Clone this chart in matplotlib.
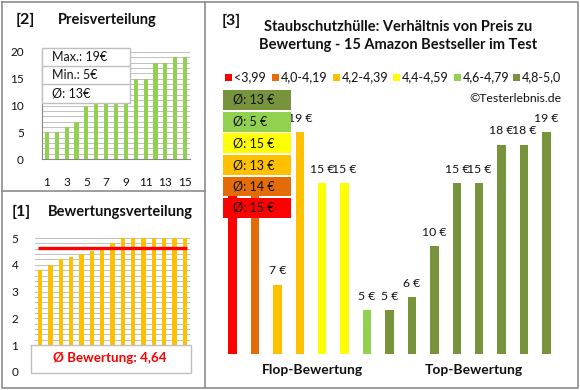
import matplotlib
matplotlib.use("Agg")
import matplotlib.pyplot as plt
from matplotlib.patches import Rectangle
from matplotlib.lines import Line2D
import numpy as np

plt.rcParams['font.family'] = ['Lato', 'DejaVu Sans']

# ---------------- data ----------------
ratings = [3.8, 4.0, 4.2, 4.3, 4.4, 4.5, 4.6, 4.8, 5.0, 5.0, 5.0, 5.0, 5.0, 5.0, 5.0]
prices = [15, 14, 7, 19, 15, 15, 5, 5, 6, 10, 15, 15, 18, 18, 19]
price_ticks = [1, 3, 5, 7, 9, 11, 13, 15]
legend_labels = ['<3,99', '4,0-4,19', '4,2-4,39', '4,4-4,59', '4,6-4,79', '4,8-5,0']
legend_colors = ['#FF0000', '#E36C09', '#FFC000', '#FFFF00', '#92D050', '#77933C']
bin_edges = [0, 3.995, 4.195, 4.395, 4.595, 4.795, 5.01]
title3 = "Staubschutzhülle: Verhältnis von Preis zu\nBewertung - 15 Amazon Bestseller im Test"
group_labels = ['Flop-Bewertung', 'Top-Bewertung']
hidden_labels = [0, 1]  # value labels covered by the average boxes in the original

W, H = 580, 390
fig = plt.figure(figsize=(W / 100, H / 100), dpi=100)
fig.patch.set_facecolor('white')

def fx(x): return x / W
def fy(y): return 1 - y / H
def rect(x0, y0, x1, y1): return [x0 / W, 1 - y1 / H, (x1 - x0) / W, (y1 - y0) / H]

TXT = '#111111'
GRID = '#C0C0C0'
BORDER = '#8C8C8C'

# ---------------- panel borders ----------------
def fline(xs, ys, color=BORDER, lw=1.2, z=20):
    fig.add_artist(Line2D([fx(x) for x in xs], [fy(y) for y in ys], color=color, lw=lw, zorder=z))

fline([2, 578, 578, 2, 2], [2, 2, 388, 388, 2])
fline([205, 205], [2, 388])
fline([2, 205], [191, 191])

# ---------------- panel [2] Preisverteilung ----------------
sorted_prices = sorted(prices)
ax2 = fig.add_axes(rect(42, 52, 190, 159))
x2 = np.arange(1, len(sorted_prices) + 1)
ax2.bar(x2, sorted_prices, width=0.42, color='#92D050', zorder=3)
ax2.set_xlim(0.5, 15.5)
ax2.set_ylim(0, 20)
ax2.set_yticks([0, 5, 10, 15, 20])
ax2.set_yticks(np.arange(0, 21, 1), minor=True)
ax2.set_xticks(price_ticks)
ax2.grid(axis='y', which='both', color=GRID, lw=0.7, zorder=0)
ax2.tick_params(axis='both', which='both', length=0, labelsize=8.5, colors=TXT)
ax2.tick_params(axis='x', pad=13)
ax2.tick_params(axis='y', pad=13)
for s in ['top', 'right']:
    ax2.spines[s].set_visible(False)
for s in ['left', 'bottom']:
    ax2.spines[s].set_color('#868686')
    ax2.spines[s].set_linewidth(0.8)

fig.text(fx(16), fy(20), '[2]', fontsize=11.5, fontweight='bold', color=TXT, va='center', ha='left')
fig.text(fx(58), fy(20), 'Preisverteilung', fontsize=10.5, fontweight='bold', color=TXT, va='center', ha='left')

# stats box
fig.add_artist(Rectangle((fx(42), fy(103)), (130 - 42) / W, (103 - 48) / H,
                         transform=fig.transFigure, facecolor='white', edgecolor='#BFBFBF', lw=1, zorder=10))
fline([42, 130], [66, 66], color='#BFBFBF', lw=1, z=11)
fline([42, 130], [84, 84], color='#BFBFBF', lw=1, z=11)
pmean = int(round(np.mean(prices)))
for yy, t in zip([57, 75, 93], [f'Max.: {max(prices)}€', f'Min.: {min(prices)}€', f'Ø: {pmean}€']):
    fig.text(fx(52), fy(yy), t, fontsize=9, color=TXT, va='center', ha='left', zorder=12)

# ---------------- panel [1] Bewertungsverteilung ----------------
ax1 = fig.add_axes(rect(35, 238, 190, 372))
x1 = np.arange(1, len(ratings) + 1)
ax1.bar(x1, ratings, width=0.45, color='#FFC000', zorder=3)
rmean = np.mean(ratings)
ax1.hlines(rmean, 0.8, 15.2, color='#FF0000', lw=2.4, zorder=4)
ax1.set_xlim(0.5, 15.5)
ax1.set_ylim(0, 5)
ax1.set_yticks([0, 1, 2, 3, 4, 5])
ax1.set_yticks(np.arange(0, 5.01, 0.2), minor=True)
ax1.set_xticks([])
ax1.grid(axis='y', which='both', color=GRID, lw=0.7, zorder=0)
ax1.tick_params(axis='both', which='both', length=0, labelsize=8.5, colors=TXT)
ax1.tick_params(axis='y', pad=12)
for s in ['top', 'right', 'left']:
    ax1.spines[s].set_visible(False)
ax1.spines['bottom'].set_color('#868686')
ax1.spines['bottom'].set_linewidth(0.8)

fig.text(fx(12), fy(212), '[1]', fontsize=11.5, fontweight='bold', color=TXT, va='center', ha='left')
fig.text(fx(48), fy(212), 'Bewertungsverteilung', fontsize=10.5, fontweight='bold', color=TXT, va='center', ha='left')

fig.add_artist(Rectangle((fx(31), fy(373)), (191 - 31) / W, (373 - 345) / H,
                         transform=fig.transFigure, facecolor='white', edgecolor='#BFBFBF', lw=1, zorder=10))
fig.text(fx(110), fy(358), 'Ø Bewertung: ' + f'{rmean:.2f}'.replace('.', ','), fontsize=9.6, fontweight='bold',
         color='#FF0000', va='center', ha='center', zorder=12)

# ---------------- panel [3] ----------------
cat_idx = np.digitize(ratings, bin_edges) - 1
bar_colors = [legend_colors[c] for c in cat_idx]

ax3 = fig.add_axes(rect(221.3, 100, 557.7, 354))
x3 = np.arange(len(prices))
ax3.bar(x3, prices, width=0.38, color=bar_colors, zorder=3)
ax3.set_xlim(-0.5, 14.5)
ax3.set_ylim(1.54, 1.54 + 254 / 12.71)
ax3.axis('off')
for xi, v in zip(x3, prices):
    if xi in hidden_labels:
        continue
    ax3.annotate(f'{v} €', (xi, v), xytext=(0, 10), textcoords='offset points',
                 ha='center', va='center', fontsize=8.8, color=TXT, zorder=4)

fig.text(fx(222), fy(21), '[3]', fontsize=11.5, fontweight='bold', color=TXT, va='center', ha='left')
fig.text(fx(398), fy(36), title3, fontsize=10.5, fontweight='bold', color=TXT, va='center', ha='center',
         linespacing=1.35)

legend_x = [225, 272, 333, 393, 454, 513]
for lx, lab, col in zip(legend_x, legend_labels, legend_colors):
    fig.add_artist(Rectangle((fx(lx), fy(80.5)), 6.5 / W, 6.5 / H, transform=fig.transFigure,
                             facecolor=col, edgecolor='none', zorder=10))
    fig.text(fx(lx + 9), fy(77), lab, fontsize=9, color=TXT, va='center', ha='left')

fig.text(fx(562), fy(98), '©Testerlebnis.de', fontsize=8.8, color=TXT, va='center', ha='right')

# average boxes (top to bottom: best category to worst)
box_y = [(90, 110), (112, 132), (133, 153), (155, 175), (177, 196), (198, 218)]
for (y0, y1), ci in zip(box_y, range(len(legend_colors) - 1, -1, -1)):
    vals = [p for p, c in zip(prices, cat_idx) if c == ci]
    avg = int(round(np.mean(vals)))
    fig.add_artist(Rectangle((fx(223), fy(y1)), (291 - 223) / W, (y1 - y0) / H, transform=fig.transFigure,
                             facecolor=legend_colors[ci], edgecolor='none', zorder=10))
    fig.text(fx(233), fy((y0 + y1) / 2), f'Ø: {avg} €', fontsize=9, color=TXT, va='center', ha='left', zorder=12)

fig.text(fx(312), fy(370), group_labels[0], fontsize=10, fontweight='bold', color=TXT, va='center', ha='center')
fig.text(fx(474), fy(370), group_labels[1], fontsize=10, fontweight='bold', color=TXT, va='center', ha='center')

fig.savefig('out.png', dpi=100, facecolor='white')
